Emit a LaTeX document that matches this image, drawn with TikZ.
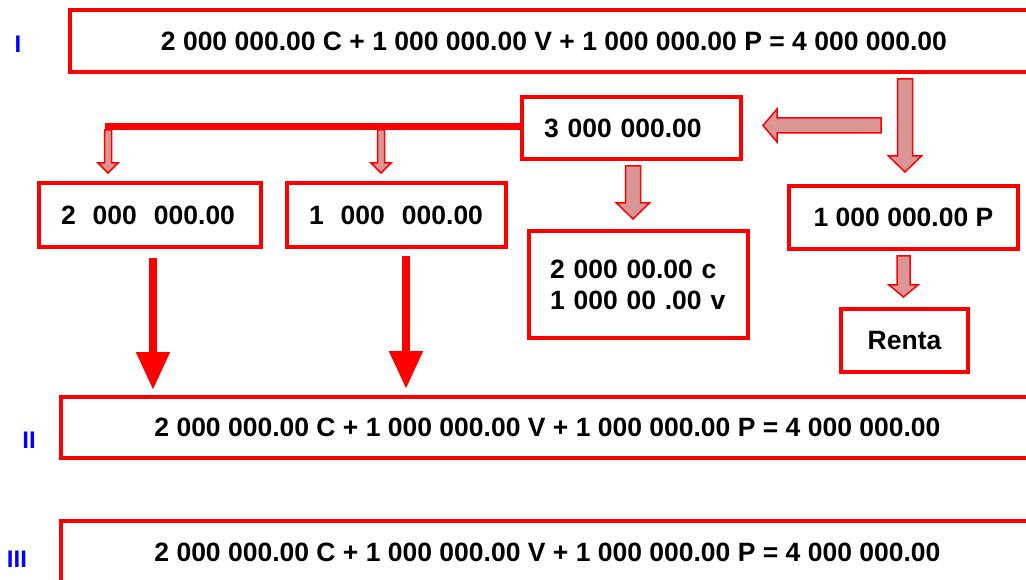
\documentclass[tikz,border=0pt]{standalone}
\usepackage{fontspec}
\setmainfont{Liberation Sans}
\usetikzlibrary{arrows.meta}
\definecolor{boxred}{RGB}{255,0,0}
\definecolor{arrowfill}{RGB}{217,150,148}
\definecolor{labblue}{RGB}{0,0,255}
\newcommand\myDownArrow[6]{% x, top, tip, shaft width, head width, head length
  \filldraw[blockarrow] ({#1-#4/2},#2) -- ({#1+#4/2},#2) -- ({#1+#4/2},{#3-#6}) -- ({#1+#5/2},{#3-#6}) -- (#1,#3) -- ({#1-#5/2},{#3-#6}) -- ({#1-#4/2},{#3-#6}) -- cycle;}
\newcommand\myLeftArrow[6]{% y, start x, tip x, shaft width, head width, head length
  \filldraw[blockarrow] (#2,{#1-#4/2}) -- (#2,{#1+#4/2}) -- ({#3+#6},{#1+#4/2}) -- ({#3+#6},{#1+#5/2}) -- (#3,#1) -- ({#3+#6},{#1-#5/2}) -- ({#3+#6},{#1-#4/2}) -- cycle;}
\begin{document}
\begin{tikzpicture}[x=1pt,y=-1pt,
  font=\fontsize{26.5}{31}\selectfont\bfseries,
  box/.style={draw=boxred, line width=4pt, inner sep=0pt, fill=white},
  lbox/.style={box, align=left, inner xsep=22pt},
  rlabel/.style={text=labblue, font=\fontsize{24}{28}\selectfont\bfseries, inner sep=0pt},
  blockarrow/.style={fill=arrowfill, draw=boxred, line width=1.5pt, line join=miter},
  bigarr/.style={draw=boxred, line width=8pt, -{Triangle[width=32pt,length=38pt]}},
  bar/.style={draw=boxred, line width=7pt}
]
\useasboundingbox (0,0) rectangle (1026,580);
\clip (0,0) rectangle (1026,580);

% equation rows
\node[box, minimum width=968pt, minimum height=62pt] (eqI) at (554,41)
  {2 000 000.00 C + 1 000 000.00 V + 1 000 000.00 P = 4 000 000.00};
\node[box, minimum width=973pt, minimum height=61pt] (eqII) at (547.5,427.5)
  {2 000 000.00 C + 1 000 000.00 V + 1 000 000.00 P = 4 000 000.00};
\node[box, minimum width=973pt, minimum height=62pt] (eqIII) at (547.5,552)
  {2 000 000.00 C + 1 000 000.00 V + 1 000 000.00 P = 4 000 000.00};

% row labels
\node[rlabel] (lI) at (18,44) {I};
\node[rlabel] (lII) at (29,440) {II};
\node[rlabel] (lIII) at (17,559) {III};

% middle boxes
\node[lbox, text width=175pt, minimum height=62pt] (b3) at (631.5,128) {3 000 000.00};
\node[lbox, text width=178pt, minimum height=64pt] (bC) at (150,215)
  {2\hspace{17pt}000\hspace{17pt}000.00};
\node[lbox, text width=175pt, minimum height=64pt] (bV) at (396.5,215)
  {1\hspace{17pt}000\hspace{17pt}000.00};
\node[lbox, text width=176pt, minimum height=107pt, inner xsep=21.5pt] (bcv) at (638,284.5)
  {2 000 00.00 c\\1 000 00 .00 v};
\node[box, minimum width=229pt, minimum height=63pt] (bP) at (903.5,217.5) {1 000 000.00 P};
\node[box, minimum width=127pt, minimum height=63pt] (bR) at (904.5,340.5) {Renta};

% thick distribution bar from the 3 000 000.00 box
\coordinate (barend) at (105,126.5);
\draw[bar] (barend -| b3.west) -- (barend);

% block arrows
\myDownArrow{905}{79}{172}{15}{33}{16}
\myLeftArrow{125.5}{881}{763}{15}{33}{14}
\myDownArrow{633}{166}{219}{15}{33}{16}
\myDownArrow{903.5}{256}{297}{13}{29}{12}
\myDownArrow{108}{130}{173}{7}{20}{10}
\myDownArrow{381}{130}{173}{7}{20}{10}

% big red arrows to row II
\draw[bigarr, shorten <=9pt, shorten >=5pt] ([xshift=3pt]bC.south) -- ([xshift=3pt]bC.south |- eqII.north);
\draw[bigarr, shorten <=7pt, shorten >=6pt] ([xshift=9.5pt]bV.south) -- ([xshift=9.5pt]bV.south |- eqII.north);
\end{tikzpicture}
\end{document}
